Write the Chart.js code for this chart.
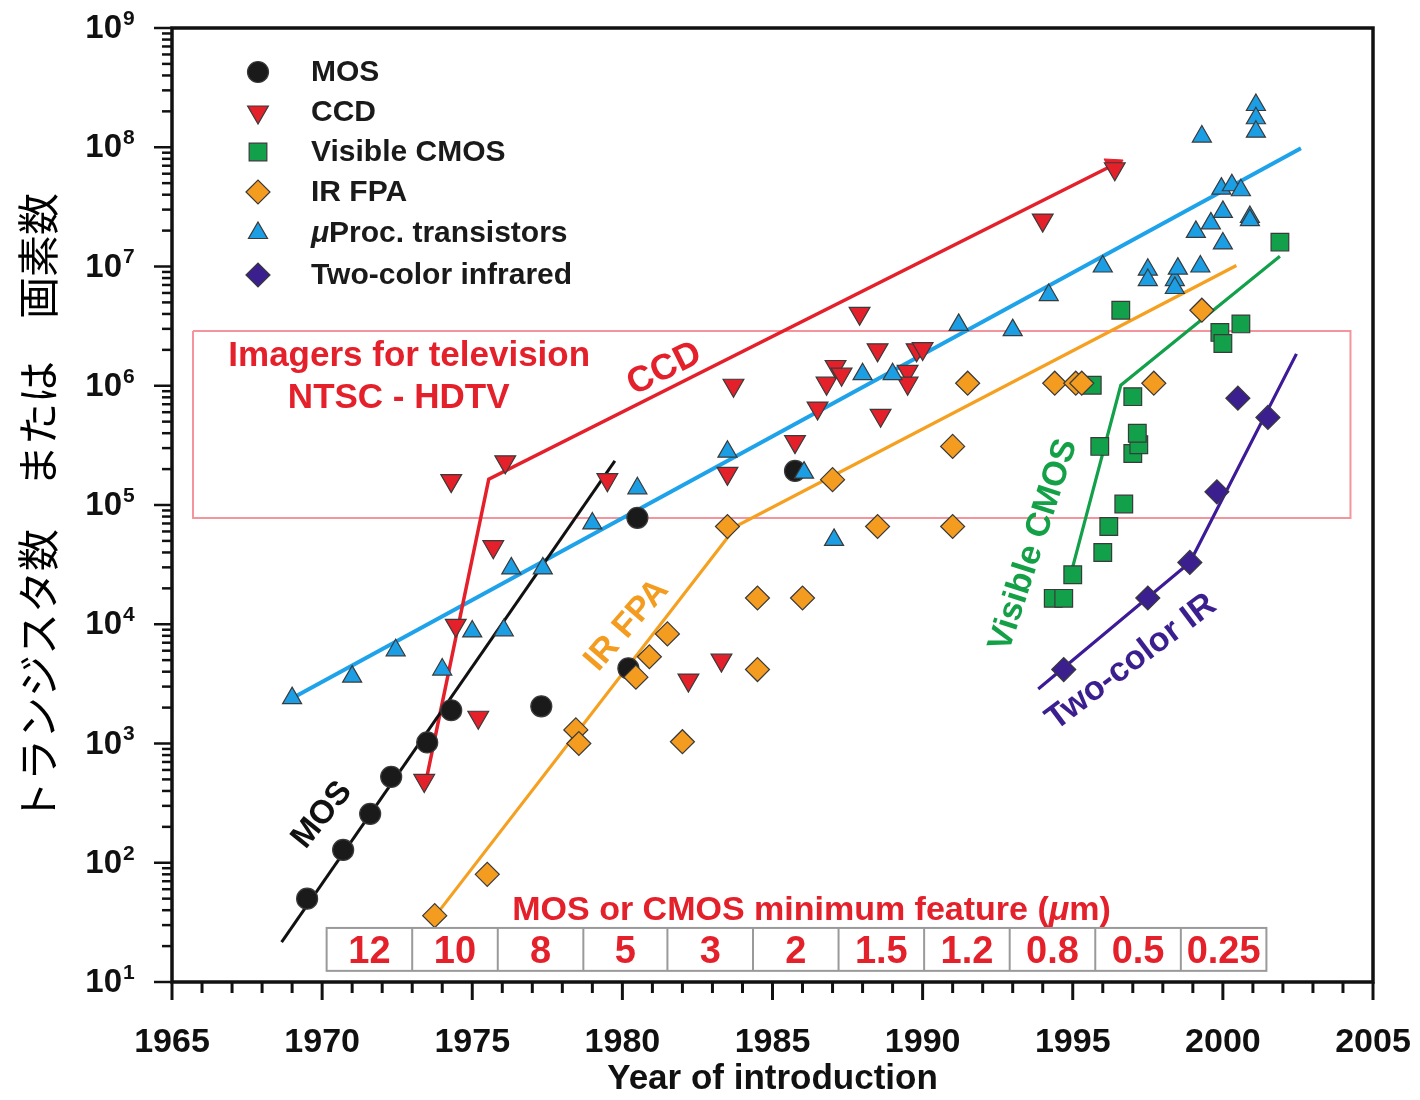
<!DOCTYPE html>
<html><head><meta charset="utf-8">
<script src="https://cdn.jsdelivr.net/npm/chart.js@4.4.1/dist/chart.umd.min.js"></script>
<style>html,body{margin:0;padding:0;background:#fff}#wrap{width:1420px;height:1100px}</style>
</head><body><div id="wrap"><canvas id="c" width="1420" height="1100"></canvas></div>
<script>
// ---------------- data ----------------
const mosYear  = [1969.5, 1970.7, 1971.6, 1972.3, 1973.5, 1974.3, 1977.3, 1980.2, 1980.5, 1985.75];
const mosCount = [50, 128, 257, 525, 1020, 1900, 2050, 4270, 78000, 193000];

const ccdYear  = [1973.4, 1974.3, 1974.45, 1975.2, 1975.7, 1976.1, 1979.5, 1982.2, 1983.3, 1983.5, 1983.7, 1985.75, 1986.5, 1986.8, 1987.1, 1987.3, 1987.9, 1988.5, 1988.6, 1989.5, 1989.5, 1989.8, 1990.0, 1994.0, 1996.4];
const ccdCount = [490, 160000, 9800, 1660, 44700, 230000, 163000, 3400, 5000, 184000, 1010000, 340000, 650000, 1050000, 1450000, 1250000, 4050000, 2000000, 565000, 1320000, 1050000, 2000000, 2050000, 24500000, 66000000];

const cmosYear  = [1994.35, 1994.7, 1995.0, 1996.0, 1996.2, 1996.7, 1995.9, 1997.0, 1997.2, 1997.15, 1997.0, 1995.65, 1996.6, 1999.9, 2000.0, 2000.6, 2001.9];
const cmosCount = [16500, 16500, 26000, 40000, 66000, 102000, 310000, 270000, 320000, 400000, 810000, 1010000, 4300000, 2800000, 2260000, 3300000, 16000000];

const irYear  = [1973.75, 1975.5, 1978.45, 1978.55, 1980.45, 1980.9, 1981.5, 1982.0, 1983.5, 1984.5, 1984.5, 1986.0, 1987.0, 1988.5, 1991.0, 1991.0, 1991.5, 1994.4, 1995.1, 1995.3, 1997.7, 1999.3];
const irCount = [36, 80, 1300, 1000, 3600, 5340, 8300, 1035, 66000, 16600, 4170, 16600, 163000, 66000, 310000, 66000, 1050000, 1050000, 1050000, 1050000, 1050000, 4300000];

const procYear  = [1969.0, 1971.0, 1972.45, 1974.0, 1975.0, 1976.05, 1976.3, 1977.35, 1979.0, 1980.5, 1983.5, 1986.05, 1987.05, 1988.0, 1989.0, 1991.2, 1993.0, 1994.2, 1996.0, 1997.5, 1997.5, 1998.4, 1998.5, 1998.4, 1999.25, 1999.1, 1999.6, 2000.0, 2000.0, 1999.95, 2000.3, 2000.6, 1999.3, 2001.1, 2001.1, 2001.1, 2000.9, 2000.9];
const procCount = [2400, 3640, 6050, 4170, 8700, 8900, 29400, 29400, 70000, 138000, 280000, 187000, 51000, 1250000, 1250000, 3240000, 2930000, 5760000, 10000000, 9400000, 7700000, 7700000, 9600000, 6600000, 10000000, 19500000, 23000000, 28700000, 15600000, 45000000, 48000000, 43600000, 123000000, 226000000, 175000000, 135000000, 26000000, 24500000];

const twoYear  = [1994.7, 1997.5, 1998.9, 1999.8, 2000.5, 2001.5];
const twoCount = [4170, 16600, 33000, 129000, 786000, 543000];

// trend lines
const mosTrendYear  = [1968.65, 1979.75];          const mosTrend  = [21.6, 234000];
const ccdTrendYear  = [1973.4, 1975.55, 1996.35];  const ccdTrend  = [410, 165000, 71000000];
const procTrendYear = [1969.0, 2002.6];            const procTrend = [2400, 98000000];
const irTrendYear   = [1973.7, 1983.8, 2000.45];   const irTrend   = [34, 66700, 10200000];
const cmosTrendYear = [1994.9, 1996.6, 2001.9];    const cmosTrend = [24400, 1010000, 12200000];
const twoTrendYear  = [1993.85, 1998.9, 2002.45];  const twoTrend  = [2860, 33000, 1850000];

// television imager band
const tvYears = [1965.7, 2004.25];
const tvRange = [77800, 2880000];

// minimum feature size table
const featureSizes = ['12','10','8','5','3','2','1.5','1.2','0.8','0.5','0.25'];
const featureEdges = [1970.15, 1973.0, 1975.85, 1978.7, 1981.5, 1984.35, 1987.2, 1990.05, 1992.9, 1995.75, 1998.6, 2001.45];

// axes
const xTickYears  = [1965, 1970, 1975, 1980, 1985, 1990, 1995, 2000, 2005];
const yTickValues = [1e1, 1e2, 1e3, 1e4, 1e5, 1e6, 1e7, 1e8, 1e9];
const yTickExp    = ['1','2','3','4','5','6','7','8','9'];
const yTitle = 'トランジスタ数　または　画素数';
const xTitle = 'Year of introduction';

// ---------------- styles ----------------
const FONT = '"Liberation Sans", Arial, Helvetica, sans-serif';
const RED = '#e4202b', BLACK = '#1a1a1a', GREEN = '#12a04b', ORANGE = '#f39c1f', BLUE = '#1b9ee3', PURPLE = '#3b1f8e';
const EDGE = '#3a3a3a';

const pts = (xs, ys) => xs.map((x, i) => ({x: x, y: ys[i]}));

function marker(label, xs, ys, style, r, fill, rot, order) {
  return {label, data: pts(xs, ys), pointStyle: style, pointRadius: r, pointHoverRadius: r,
    pointBackgroundColor: fill, pointBorderColor: EDGE, pointBorderWidth: 1.2,
    pointRotation: rot || 0, backgroundColor: fill, borderColor: EDGE, showLine: false, order};
}
function trend(label, xs, ys, color, w, extra) {
  return Object.assign({label, data: pts(xs, ys), showLine: true, borderColor: color, borderWidth: w,
    pointRadius: 0, pointHoverRadius: 0, fill: false, tension: 0, order: 10}, extra || {});
}

const markerSets = [
  marker('MOS', mosYear, mosCount, 'circle', 10.5, BLACK, 0, 5),
  marker('CCD', ccdYear, ccdCount, 'triangle', 12, RED, 180, 4),
  marker('Visible CMOS', cmosYear, cmosCount, 'rect', 12.5, GREEN, 0, 3),
  marker('IR FPA', irYear, irCount, 'rectRot', 12, ORANGE, 0, 2),
  marker('μProc. transistors', procYear, procCount, 'triangle', 11, BLUE, 0, 1),
  marker('Two-color infrared', twoYear, twoCount, 'rectRot', 12, PURPLE, 0, 0)
];

const ccdArrowRot = (ctx) => {
  const ch = ctx.chart, xs = ch.scales.x, ys = ch.scales.y;
  if (!xs || !ys) return 0;
  const n = ccdTrendYear.length;
  const dx = xs.getPixelForValue(ccdTrendYear[n-1]) - xs.getPixelForValue(ccdTrendYear[n-2]);
  const dy = ys.getPixelForValue(ccdTrend[n-1]) - ys.getPixelForValue(ccdTrend[n-2]);
  return Math.atan2(dx, -dy) * 180 / Math.PI;
};

const lineSets = [
  trend('MOS trend', mosTrendYear, mosTrend, '#111111', 3),
  trend('CCD trend', ccdTrendYear, ccdTrend, '#e4202b', 3.5, {
    pointRadius: (c) => c.dataIndex === ccdTrendYear.length - 1 ? 11 : 0,
    pointStyle: 'triangle', pointRotation: ccdArrowRot,
    pointBackgroundColor: '#e4202b', pointBorderColor: '#e4202b', pointBorderWidth: 1}),
  trend('μProc trend', procTrendYear, procTrend, '#1ea2ea', 4),
  trend('IR FPA trend', irTrendYear, irTrend, '#f5a020', 3.2),
  trend('Visible CMOS trend', cmosTrendYear, cmosTrend, '#13a04a', 3.2),
  trend('Two-color IR trend', twoTrendYear, twoTrend, '#3c1a98', 3.2),
  trend('TV band', [tvYears[0], tvYears[1], tvYears[1], tvYears[0], tvYears[0]],
        [tvRange[1], tvRange[1], tvRange[0], tvRange[0], tvRange[1]], 'rgba(235,60,75,0.55)', 2, {order: 20})
];

// annotation texts (placed in data coordinates)
const notes = [
  {text: 'CCD', x: 1981.4, y: 1.38e6, angle: -26.6, color: RED, font: 'bold 36px ' + FONT},
  {text: 'MOS', x: 1970.0, y: 251, angle: -51, color: '#111', font: 'bold 33px ' + FONT},
  {text: 'IR FPA', x: 1980.15, y: 9800, angle: -49, color: ORANGE, font: 'bold 34px ' + FONT},
  {text: 'Visible CMOS', x: 1993.7, y: 46200, angle: -72, color: '#13a047', font: 'bold 34px ' + FONT},
  {text: 'Two-color IR', x: 1996.95, y: 4800, angle: -37, color: PURPLE, font: 'bold 34px ' + FONT},
  {text: 'Imagers for television', x: 1972.9, y: 1.78e6, angle: 0, color: RED, font: 'bold 35px ' + FONT},
  {text: 'NTSC - HDTV', x: 1972.55, y: 7.89e5, angle: 0, color: RED, font: 'bold 35px ' + FONT}
];

function drawShape(ctx, style, cx, cy, r, fill, rot) {
  ctx.save();
  ctx.translate(cx, cy);
  ctx.rotate((rot || 0) * Math.PI / 180);
  ctx.beginPath();
  if (style === 'circle') ctx.arc(0, 0, r, 0, Math.PI * 2);
  else if (style === 'triangle') {
    for (let i = 0; i < 3; i++) {
      const a = i * 2 * Math.PI / 3;
      const px = Math.sin(a) * r, py = -Math.cos(a) * r;
      i ? ctx.lineTo(px, py) : ctx.moveTo(px, py);
    }
    ctx.closePath();
  } else if (style === 'rect') {
    const s = Math.SQRT1_2 * r; ctx.rect(-s, -s, 2 * s, 2 * s);
  } else if (style === 'rectRot') {
    ctx.moveTo(-r, 0); ctx.lineTo(0, -r); ctx.lineTo(r, 0); ctx.lineTo(0, r); ctx.closePath();
  }
  ctx.fillStyle = fill; ctx.fill();
  ctx.lineWidth = 1.2; ctx.strokeStyle = EDGE; ctx.stroke();
  ctx.restore();
}

const decor = {
  id: 'decor',
  afterDatasetsDraw(chart) {
    const {ctx, scales: {x, y}} = chart;
    ctx.save();
    // feature table
    const top = y.getPixelForValue(28.4), bot = y.getPixelForValue(12.4);
    const l = x.getPixelForValue(featureEdges[0]), r = x.getPixelForValue(featureEdges[featureEdges.length - 1]);
    ctx.fillStyle = '#fff'; ctx.fillRect(l, top, r - l, bot - top);
    ctx.strokeStyle = '#9a9a9a'; ctx.lineWidth = 2;
    ctx.strokeRect(l, top, r - l, bot - top);
    ctx.font = 'bold 38px ' + FONT; ctx.fillStyle = RED; ctx.textAlign = 'center'; ctx.textBaseline = 'middle';
    for (let i = 0; i < featureSizes.length; i++) {
      const a = x.getPixelForValue(featureEdges[i]), b = x.getPixelForValue(featureEdges[i + 1]);
      if (i > 0) { ctx.beginPath(); ctx.moveTo(a, top); ctx.lineTo(a, bot); ctx.stroke(); }
      ctx.fillText(featureSizes[i], (a + b) / 2, (top + bot) / 2 + 3);
    }
    // feature caption with italic mu
    const capY = y.getPixelForValue(40), capX = x.getPixelForValue(1986.3);
    const f1 = 'bold 34px ' + FONT, f2 = 'italic bold 34px ' + FONT;
    const s1 = 'MOS or CMOS minimum feature (', s2 = 'μ', s3 = 'm)';
    ctx.font = f1; const w1 = ctx.measureText(s1).width, w3 = ctx.measureText(s3).width;
    ctx.font = f2; const w2 = ctx.measureText(s2).width;
    let sx = capX - (w1 + w2 + w3) / 2;
    ctx.textAlign = 'left';
    ctx.font = f1; ctx.fillText(s1, sx, capY); sx += w1;
    ctx.font = f2; ctx.fillText(s2, sx, capY); sx += w2;
    ctx.font = f1; ctx.fillText(s3, sx, capY);
    // annotations
    ctx.textAlign = 'center';
    for (const n of notes) {
      ctx.save();
      ctx.translate(x.getPixelForValue(n.x), y.getPixelForValue(n.y));
      ctx.rotate(n.angle * Math.PI / 180);
      ctx.font = n.font; ctx.fillStyle = n.color;
      ctx.fillText(n.text, 0, 0);
      ctx.restore();
    }
    ctx.restore();
  },
  afterDraw(chart) {
    const {ctx, chartArea: a, scales: {x, y}} = chart;
    ctx.save();
    // frame
    ctx.strokeStyle = '#111'; ctx.lineWidth = 3.5;
    ctx.strokeRect(a.left, a.top, a.right - a.left, a.bottom - a.top);
    // x ticks
    ctx.lineWidth = 3;
    for (let yr = x.min; yr <= x.max; yr++) {
      const px = x.getPixelForValue(yr), len = (yr % 5 === 0) ? 18 : 11;
      ctx.beginPath(); ctx.moveTo(px, a.bottom); ctx.lineTo(px, a.bottom + len); ctx.stroke();
    }
    // y ticks (log, with minor)
    ctx.lineWidth = 2.5;
    for (let e = 1; e <= 9; e++) {
      for (let k = 1; k <= 9; k++) {
        const v = k * Math.pow(10, e);
        if (v > y.max * 1.0001) break;
        const py = y.getPixelForValue(v), len = k === 1 ? 18 : 10;
        ctx.beginPath(); ctx.moveTo(a.left, py); ctx.lineTo(a.left - len, py); ctx.stroke();
      }
    }
    // y tick labels 10^n
    ctx.fillStyle = '#111'; ctx.textBaseline = 'middle';
    yTickValues.forEach((v, i) => {
      const py = y.getPixelForValue(v);
      ctx.font = 'bold 33px ' + FONT; ctx.textAlign = 'right';
      ctx.fillText('10', 122, py + 1);
      ctx.font = 'bold 21px ' + FONT; ctx.textAlign = 'left';
      ctx.fillText(yTickExp[i], 123, py - 9);
    });
    // y title
    ctx.save();
    ctx.translate(38, (a.top + a.bottom) / 2 + 3);
    ctx.rotate(-Math.PI / 2);
    ctx.font = '42px "Noto Sans CJK JP", sans-serif'; ctx.fillStyle = '#000';
    ctx.textAlign = 'center'; ctx.textBaseline = 'middle';
    ctx.fillText(yTitle, 0, 0);
    ctx.restore();
    // legend
    const rows = [73, 113, 153, 193, 234, 276];
    const styles = [['circle', 10.5, BLACK, 0], ['triangle', 12, RED, 180], ['rect', 12.5, GREEN, 0],
                    ['rectRot', 12, ORANGE, 0], ['triangle', 11, BLUE, 0], ['rectRot', 12, PURPLE, 0]];
    ctx.textAlign = 'left'; ctx.textBaseline = 'middle'; ctx.fillStyle = '#1a1a1a';
    markerSets.forEach((ds, i) => {
      const s = styles[i];
      drawShape(ctx, s[0], 258, rows[i] - 1, s[1], s[2], s[3]);
      ctx.fillStyle = '#1a1a1a';
      if (ds.label.startsWith('μ')) {
        ctx.font = 'italic bold 30px ' + FONT; ctx.fillText('μ', 311, rows[i]);
        const w = ctx.measureText('μ').width;
        ctx.font = 'bold 30px ' + FONT; ctx.fillText(ds.label.slice(1), 311 + w, rows[i]);
      } else {
        ctx.font = 'bold 30px ' + FONT; ctx.fillText(ds.label, 311, rows[i]);
      }
    });
    ctx.restore();
  }
};

new Chart(document.getElementById('c'), {
  type: 'scatter',
  data: {datasets: markerSets.concat(lineSets)},
  options: {
    responsive: false, animation: false,
    layout: {padding: {top: 28, right: 47, left: 0, bottom: 0}},
    plugins: {legend: {display: false}, tooltip: {enabled: false}},
    scales: {
      x: {
        type: 'linear', min: 1965, max: 2005,
        grid: {display: false, drawTicks: false}, border: {display: false},
        afterBuildTicks: (s) => { s.ticks = xTickYears.map(v => ({value: v})); },
        afterFit: (s) => { s.height = 118; s.paddingLeft = 0; s.paddingRight = 0; },
        ticks: {callback: (v) => String(v), color: '#111', padding: 40, maxRotation: 0, autoSkip: false,
                font: {family: FONT, size: 34, weight: 'bold'}},
        title: {display: true, text: xTitle, color: '#111', padding: {top: 0, bottom: 0},
                font: {family: FONT, size: 35, weight: 'bold'}}
      },
      y: {
        type: 'logarithmic', min: 10, max: 1e9,
        grid: {display: false, drawTicks: false}, border: {display: false},
        afterBuildTicks: (s) => { s.ticks = yTickValues.map(v => ({value: v})); },
        afterFit: (s) => { s.width = 172; s.paddingTop = 0; s.paddingBottom = 0; },
        ticks: {display: false}
      }
    }
  },
  plugins: [decor]
});
</script></body></html>
